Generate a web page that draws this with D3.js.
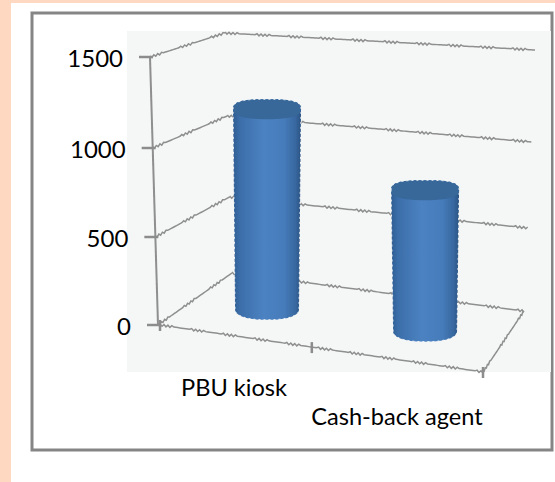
<!DOCTYPE html>
<html>
<head>
<meta charset="utf-8">
<script src="https://cdnjs.cloudflare.com/ajax/libs/d3/7.8.5/d3.min.js"></script>
<style>
  html, body { margin: 0; padding: 0; background: #fff; }
  svg { display: block; }
  text { font-family: Lato, sans-serif; fill: #000; }
</style>
</head>
<body>
<svg id="chart" width="555" height="482"></svg>
<script>
// Data
const categories = ["PBU kiosk", "Cash-back agent"];
const values = [1100, 785];
const yTicks = [0, 500, 1000, 1500];

const svg = d3.select("#chart");

// Page background and frame
svg.append("rect").attr("width", 555).attr("height", 482).attr("fill", "#fed8c0");
svg.append("rect").attr("x", 11).attr("y", 3).attr("width", 544).attr("height", 479).attr("fill", "#fff");
svg.append("rect").attr("x", 32).attr("y", 13).attr("width", 520).attr("height", 437)
    .attr("fill", "#fff").attr("stroke", "#858585").attr("stroke-width", 3);
svg.append("rect").attr("x", 127).attr("y", 31).attr("width", 424).attr("height", 341).attr("fill", "#f5f7f7");

// SCALES
// one value scale for each corner of the 3D box, the box leans in perspective
const yFront = d3.scaleLinear().domain(yTicks).range([325, 237, 148, 57]);
const yBack = d3.scaleLinear().domain(yTicks).range([273, 197, 116, 33]);
const yRight = d3.scaleLinear().domain(yTicks).range([311, 228, 142, 50]);
const xFront = d3.scaleLinear().domain([0, 1500]).range([158, 150]);
const xBack = d3.scaleLinear().domain([0, 1500]).range([232, 225]);
const xRight = d3.scaleLinear().domain([0, 1500]).range([524, 535]);

// category position along the floor, 0 is left and 1 is right
const xPoint = d3.scalePoint().domain(categories).range([0.231, 0.745]);

// floor corners
const floorFrontLeft = [xFront(0) + 2, yFront(0)];
const floorFrontRight = [483, 372];
const floorBackLeft = [xBack(0), yBack(0)];
const floorBackRight = [xRight(0), yRight(0)];

function floorPoint(u, v) {
    const front = d3.interpolateArray(floorFrontLeft, floorFrontRight)(u);
    const back = d3.interpolateArray(floorBackLeft, floorBackRight)(u);
    return d3.interpolateArray(front, back)(v);
}

// soft look of the scaled up picture
const defs = svg.append("defs");
defs.append("filter").attr("id", "soft")
    .append("feGaussianBlur").attr("stdDeviation", 0.45);

// Gridlines have a rough look in the picture, so wiggle parts of each line
function roughLine(a, b) {
    const n = Math.round(Math.hypot(b[0] - a[0], b[1] - a[1]) / 2);
    const pts = d3.range(n + 1).map(i => {
        const p = d3.interpolateArray(a, b)(i / n);
        const wiggle = (i % 16) < 7 ? (i % 2 ? 1 : -1) : 0;
        return [p[0], p[1] + wiggle];
    });
    return d3.line()(pts);
}

const grid = svg.append("g").attr("fill", "none").attr("stroke", "#8f8f8f")
    .attr("stroke-width", 1.5).attr("filter", "url(#soft)");

yTicks.forEach(t => {
    const front = [xFront(t), yFront(t)];
    const back = [xBack(t), yBack(t)];
    const right = [xRight(t), yRight(t)];
    grid.append("path").attr("d", roughLine(front, back));
    grid.append("path").attr("d", roughLine(back, right));
});

// box edges
grid.append("path").attr("d", roughLine([xFront(0), yFront(0)], [xFront(1500), yFront(1500)])).attr("stroke-width", 2);
grid.append("path").attr("d", roughLine(floorFrontLeft, floorFrontRight));
grid.append("path").attr("d", roughLine(floorFrontRight, floorBackRight));

// Axis ticks
const ticks = svg.append("g").attr("stroke", "#8c8c8c").attr("stroke-width", 2.5);

yTicks.forEach(t => {
    ticks.append("line")
        .attr("x1", xFront(t) - 11).attr("x2", xFront(t) + 3)
        .attr("y1", yFront(t)).attr("y2", yFront(t));
});

[0, 0.47, 1].forEach(u => {
    const p = floorPoint(u, 0);
    ticks.append("line")
        .attr("x1", p[0]).attr("x2", p[0])
        .attr("y1", p[1] - 5).attr("y2", p[1] + 6);
});

// Y labels
svg.append("g").selectAll("text")
    .data(yTicks)
    .enter()
    .append("text")
        .attr("x", d => xFront(d) - 27)
        .attr("y", d => yFront(d) + 2)
        .attr("dy", "0.35em")
        .attr("text-anchor", "end")
        .attr("font-size", 24)
        .text(d => d);

// Category labels
const labelX = [234, 397];
const labelY = [388, 417];
svg.append("g").selectAll("text")
    .data(categories)
    .enter()
    .append("text")
        .attr("x", (d, i) => labelX[i])
        .attr("y", (d, i) => labelY[i])
        .attr("dy", "0.35em")
        .attr("text-anchor", "middle")
        .attr("font-size", 23.6)
        .text(d => d);

// Cylinder gradient
const grad = defs.append("linearGradient").attr("id", "cyl");
[[0, "#2f5d92"], [0.1, "#3b6ea9"], [0.45, "#4c82c2"], [0.75, "#467cbb"], [0.92, "#37679f"], [1, "#2a5483"]]
    .forEach(s => grad.append("stop").attr("offset", s[0]).attr("stop-color", s[1]));

// rounded box shape of the cylinder ends, a bit squarer than an ellipse
function endCurve(cx, cy, rx, ry, from, to, power) {
    return d3.range(33).map(i => {
        const a = from + (to - from) * i / 32;
        const c = Math.cos(a), s = Math.sin(a);
        return [cx + rx * Math.sign(c) * Math.pow(Math.abs(c), power),
                cy + ry * Math.sign(s) * Math.pow(Math.abs(s), power)];
    });
}

// Cylinders
const rx = 34;
const ry = 10;
const barsG = svg.append("g").attr("filter", "url(#soft)");
const line = d3.line();

categories.forEach((c, i) => {
    const base = floorPoint(xPoint(c), 0.5);
    const h = (yBack(0) - yBack(values[i])) * 1.15;
    const cx = base[0];
    const bottom = base[1];
    const top = bottom - h;

    const topEdge = endCurve(cx, top, rx, ry, Math.PI, 2 * Math.PI, 0.7);
    const bottomEdge = endCurve(cx, bottom, rx - 2, ry + 1, 0, Math.PI, 0.85);
    const outline = line(topEdge.concat(bottomEdge)) + "Z";

    barsG.append("path").attr("d", outline).attr("fill", "url(#cyl)");
    barsG.append("path")
        .attr("d", line(topEdge.concat(endCurve(cx, top, rx, ry, 0, Math.PI, 0.8))) + "Z")
        .attr("fill", "#376799");
    // toothed edge of the cylinder
    barsG.append("path").attr("d", outline)
        .attr("fill", "none")
        .attr("stroke", "#f5f7f7")
        .attr("stroke-width", 1)
        .attr("stroke-dasharray", "2,3");
});
</script>
</body>
</html>
